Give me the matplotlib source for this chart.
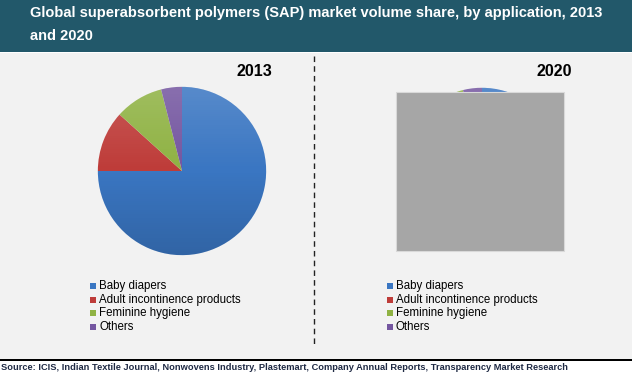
import matplotlib
matplotlib.use('Agg')
import matplotlib.pyplot as plt
import numpy as np
from matplotlib.patches import Rectangle, Circle

# data
categories = ['Baby diapers', 'Adult incontinence products', 'Feminine hygiene', 'Others']
share_2013 = [75.0, 11.7, 9.3, 4.0]
share_2020 = [72.0, 14.0, 10.2, 3.8]
colors = ['#3A76C2', '#BE3C39', '#8FB243', '#7456A0']
years = ['2013', '2020']

W, H = 632, 385
fig = plt.figure(figsize=(W / 100, H / 100), dpi=100)
fig.patch.set_facecolor('white')
plt.rcParams['font.family'] = ['Liberation Sans', 'DejaVu Sans']

def px(x, y):
    # pixel coords (from top-left) to figure fraction
    return x / W, 1 - y / H

# background panels
fig.patches.append(Rectangle((0, 1 - 52 / H), 1, 52 / H, transform=fig.transFigure,
                             facecolor='#22586A', edgecolor='none', zorder=-5))
fig.patches.append(Rectangle((0, 1 - 359 / H), 1, (359 - 53) / H, transform=fig.transFigure,
                             facecolor='#F2F2F2', edgecolor='none', zorder=-5))
fig.patches.append(Rectangle((0, 1 - 361 / H), 1, 2 / H, transform=fig.transFigure,
                             facecolor='black', edgecolor='none', zorder=-5))

# title
fig.text(*px(30, 13), 'Global superabsorbent polymers (SAP) market volume share, by application, 2013',
         color='white', fontsize=10.5, fontweight='bold', va='center', ha='left')
fig.text(*px(30, 36), 'and 2020', color='white', fontsize=10.5, fontweight='bold',
         va='center', ha='left')

# dashed separator
fig.add_artist(plt.Line2D([313.5 / W, 313.5 / W], [1 - 56 / H, 1 - 345 / H], transform=fig.transFigure,
                          color='#222222', linewidth=1, linestyle=(0, (4, 3))))

# shading overlay: lighter at top, darker at bottom
shade = np.zeros((64, 1, 4))
t = np.linspace(0, 1, 64)[:, None]
shade[..., :3] = np.where(t < 0.5, 1.0, 0.0)[:, :, None] * np.ones(3)
shade[..., 3] = (np.abs(t - 0.5) * 0.3)[:, 0][:, None]

pies = [((182, 171), 85), ((482, 168), 81)]
for ((cx, cy), radius), yr, vals in zip(pies, years, [share_2013, share_2020]):
    ax = fig.add_axes([(cx - radius) / W, (H - cy - radius) / H, 2 * radius / W, 2 * radius / H])
    ax.set_zorder(1)
    ax.patch.set_alpha(0)
    ax.pie(vals, colors=colors, startangle=90, counterclock=False, radius=1,
           wedgeprops=dict(linewidth=0))
    im = ax.imshow(shade, extent=(-1, 1, -1, 1), aspect='auto', zorder=3)
    im.set_clip_path(Circle((0, 0), 1, transform=ax.transData))
    ax.set_xlim(-1.01, 1.01)
    ax.set_ylim(-1.01, 1.01)
    ax.set_aspect('equal')
    ax.axis('off')
    fig.text(*px(cx + 72, 71), yr, fontsize=11.5, fontweight='bold', ha='center', va='center',
             color='black')

# gray box covering the 2020 pie
fig.patches.append(Rectangle(px(396, 251), (564 - 396) / W, (251 - 92) / H, transform=fig.transFigure,
                             facecolor='#A6A6A6', edgecolor='#D9D9D9', linewidth=0.8, zorder=5))

# legends
rows = [286, 299.5, 313, 326.5]
for lx in [90, 387]:
    for lab, col, ry in zip(categories, colors, rows):
        fig.patches.append(Rectangle(px(lx, ry + 3), 6 / W, 6 / H, transform=fig.transFigure,
                                     facecolor=col, edgecolor='none'))
        fig.text(*px(lx + 9, ry), lab, fontsize=8.3, ha='left', va='center', color='black')

# source
fig.text(*px(1, 368), 'Source: ICIS, Indian Textile Journal, Nonwovens Industry, Plastemart, '
         'Company Annual Reports, Transparency Market Research',
         fontsize=6.7, fontweight='bold', ha='left', va='center', color='#1F2A44')

fig.savefig('out.png', dpi=100)
